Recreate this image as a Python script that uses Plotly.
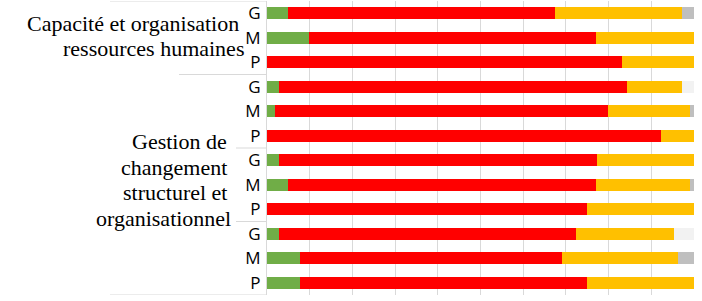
import plotly.graph_objects as go

# ---- data ----
row_labels = ["G", "M", "P", "G", "M", "P", "G", "M", "P", "G", "M", "P"]
green = [5.0, 9.8, 0, 2.8, 1.9, 0, 2.8, 4.9, 0, 2.8, 7.8, 7.8]
red = [62.4, 67.2, 83.1, 81.6, 78.0, 92.2, 74.5, 72.1, 75.0, 69.6, 61.3, 67.2]
orange = [29.7, 23.0, 16.9, 12.7, 19.2, 7.8, 22.7, 22.1, 25.0, 22.8, 27.1, 25.0]
gray = [2.9, 0, 0, 0, 0.9, 0, 0, 0.9, 0, 0, 3.8, 0]
lightgray = [0, 0, 0, 2.9, 0, 0, 0, 0, 0, 4.8, 0, 0]
group1_lines = ["Capacité et organisation", "ressources humaines"]
group2_lines = ["Gestion de", "changement", "structurel et", "organisationnel"]

ypos = list(range(len(row_labels)))

series = [
    (green, "#70ad47"),
    (red, "#ff0000"),
    (orange, "#ffc000"),
    (gray, "#bfbfbf"),
    (lightgray, "#f2f2f2"),
]

fig = go.Figure()
for vals, col in series:
    fig.add_trace(go.Bar(x=vals, y=ypos, orientation="h", marker=dict(color=col, line=dict(width=0)),
                         showlegend=False, hoverinfo="x"))

W, H = 702, 301
L, R, T, B = 267, 8, 1, 6
pw = W - L - R

def px2paper(px):
    return (px - L) / pw

shapes = []
for yb, x0 in [(-0.5, 110), (2.5, 179), (5.5, 236), (8.5, 236), (11.5, 110)]:
    shapes.append(dict(type="line", xref="paper", yref="y", x0=px2paper(x0), x1=0, y0=yb, y1=yb,
                       line=dict(color="#d9d9d9", width=1)))

ann = []
serif = dict(family="Liberation Serif", size=22, color="black")
for txt, (xr, yc) in zip(group1_lines, [(241, 24), (246, 48)]):
    ann.append(dict(text=txt, xref="paper", yref="paper", x=px2paper(xr), y=1 - (yc - T) / (H - T - B),
                    xanchor="right", yanchor="middle", showarrow=False, font=serif))
for txt, (xr, yc) in zip(group2_lines, [(229, 141), (229, 167), (229, 193), (233, 218)]):
    ann.append(dict(text=txt, xref="paper", yref="paper", x=px2paper(xr), y=1 - (yc - T) / (H - T - B),
                    xanchor="right", yanchor="middle", showarrow=False, font=serif))

fig.update_layout(
    barmode="stack",
    bargap=0.5,
    width=W, height=H,
    margin=dict(l=L, r=R, t=T, b=B, pad=0),
    plot_bgcolor="white", paper_bgcolor="white",
    xaxis=dict(range=[0, 100], dtick=10, showgrid=True, gridcolor="#d9d9d9", gridwidth=1,
               showticklabels=False, zeroline=False, ticks="", fixedrange=True),
    yaxis=dict(tickvals=ypos, ticktext=row_labels, showgrid=False,
               showline=True, linecolor="#d9d9d9", linewidth=1, ticks="", ticklabelstandoff=2,
               tickfont=dict(family="Open Sans", size=17, color="black"),
               zeroline=False, range=[11.5, -0.5]),
    shapes=shapes,
    annotations=ann,
)

fig.write_html("out.html", config={"displayModeBar": False},
               post_script="document.body.style.margin='0';document.body.style.overflow='hidden';")
